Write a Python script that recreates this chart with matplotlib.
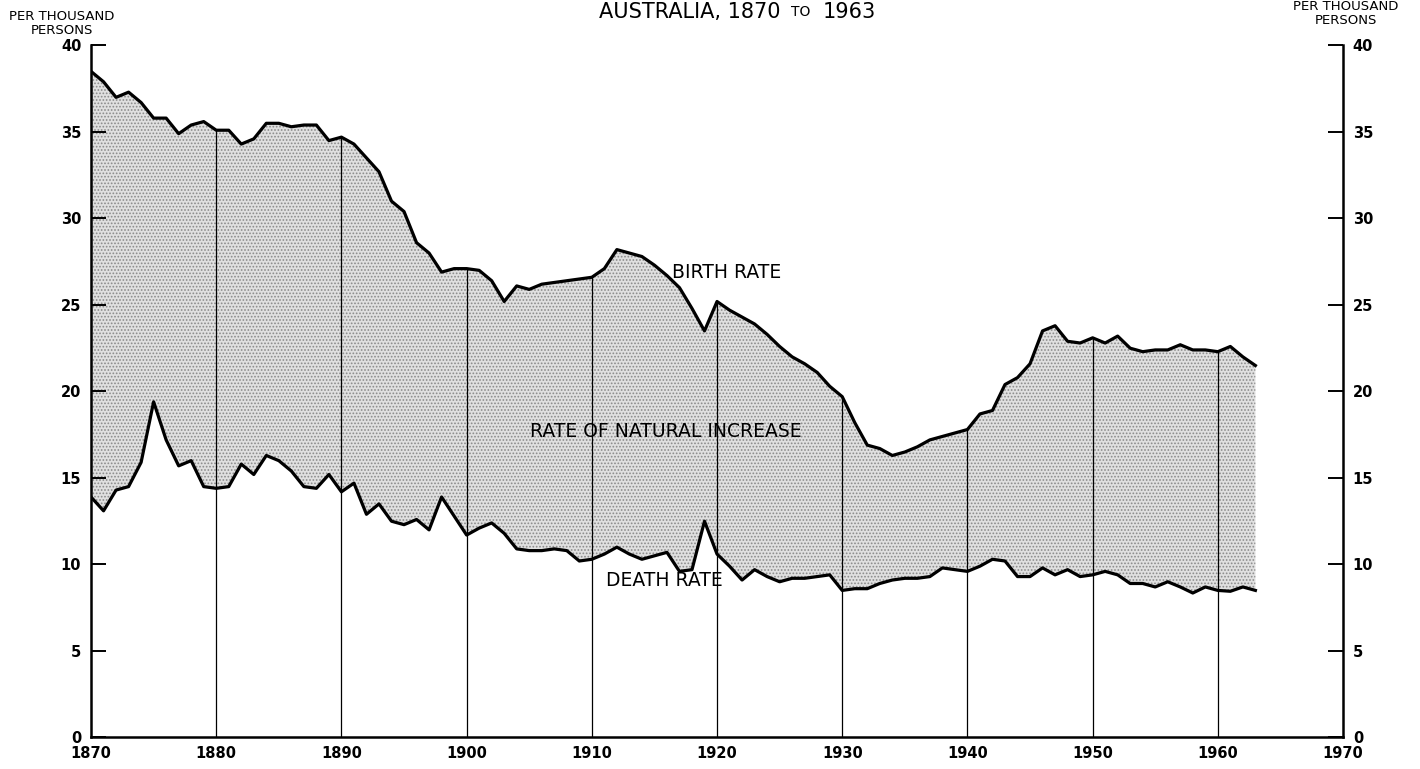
"""
Birth rate, death rate and rate of natural increase, Australia 1870-1963.
Redrawn from a scanned chart; values read off the picture (per thousand persons).
"""

import matplotlib
matplotlib.use('Agg')
import matplotlib.pyplot as plt

# --- Data ---
years = list(range(1870, 1964))

birth_rate = [
    38.5, 37.9, 37.0, 37.3, 36.7, 35.8, 35.8, 34.9, 35.4, 35.6,   # 1870s
    35.1, 35.1, 34.3, 34.6, 35.5, 35.5, 35.3, 35.4, 35.4, 34.5,   # 1880s
    34.7, 34.3, 33.5, 32.7, 31.0, 30.4, 28.6, 28.0, 26.9, 27.1,   # 1890s
    27.1, 27.0, 26.4, 25.2, 26.1, 25.9, 26.2, 26.3, 26.4, 26.5,   # 1900s
    26.6, 27.1, 28.2, 28.0, 27.8, 27.3, 26.7, 26.0, 24.8, 23.5,   # 1910s
    25.2, 24.7, 24.3, 23.9, 23.3, 22.6, 22.0, 21.6, 21.1, 20.3,   # 1920s
    19.7, 18.2, 16.9, 16.7, 16.3, 16.5, 16.8, 17.2, 17.4, 17.6,   # 1930s
    17.8, 18.7, 18.9, 20.4, 20.8, 21.6, 23.5, 23.8, 22.9, 22.8,   # 1940s
    23.1, 22.8, 23.2, 22.5, 22.3, 22.4, 22.4, 22.7, 22.4, 22.4,   # 1950s
    22.3, 22.6, 22.0, 21.5,                                       # 1960-63
]

death_rate = [
    13.9, 13.1, 14.3, 14.5, 15.9, 19.4, 17.2, 15.7, 16.0, 14.5,   # 1870s
    14.4, 14.5, 15.8, 15.2, 16.3, 16.0, 15.4, 14.5, 14.4, 15.2,   # 1880s
    14.2, 14.7, 12.9, 13.5, 12.5, 12.3, 12.6, 12.0, 13.9, 12.8,   # 1890s
    11.7, 12.1, 12.4, 11.8, 10.9, 10.8, 10.8, 10.9, 10.8, 10.2,   # 1900s
    10.3, 10.6, 11.0, 10.6, 10.3, 10.5, 10.7, 9.6, 9.7, 12.5,     # 1910s
    10.6, 9.9, 9.1, 9.7, 9.3, 9.0, 9.2, 9.2, 9.3, 9.4,            # 1920s
    8.5, 8.6, 8.6, 8.9, 9.1, 9.2, 9.2, 9.3, 9.8, 9.7,             # 1930s
    9.6, 9.9, 10.3, 10.2, 9.3, 9.3, 9.8, 9.4, 9.7, 9.3,           # 1940s
    9.4, 9.6, 9.4, 8.9, 8.9, 8.7, 9.0, 8.7, 8.35, 8.7,            # 1950s
    8.5, 8.45, 8.7, 8.5,                                          # 1960-63
]

decade_lines = [1880, 1890, 1900, 1910, 1920, 1930, 1940, 1950, 1960]
x_ticks = [1870, 1880, 1890, 1900, 1910, 1920, 1930, 1940, 1950, 1960, 1970]
y_ticks = [0, 5, 10, 15, 20, 25, 30, 35, 40]

plt.rcParams['font.family'] = ['DejaVu Sans']
plt.rcParams['hatch.linewidth'] = 0.8

fig = plt.figure(figsize=(14.2, 7.69), dpi=100)
ax = fig.add_axes([0.0641, 0.0410, 0.8817, 0.8999])

# --- Stippled band between the two curves ---
ax.fill_between(years, death_rate, birth_rate, facecolor='#e0e0e0',
                edgecolor='#8a8a8a', hatch='.....', linewidth=0, zorder=1)

# --- Decade rules from the baseline up to the birth-rate curve ---
tops = [birth_rate[years.index(d)] for d in decade_lines]
ax.vlines(decade_lines, 0, tops, colors='black', linewidth=0.9, zorder=2)

# --- The two rate curves ---
ax.plot(years, birth_rate, color='black', linewidth=2.3, zorder=3)
ax.plot(years, death_rate, color='black', linewidth=2.3, zorder=3)

# --- Axes styling ---
ax.set_xlim(1870, 1970)
ax.set_ylim(0, 40)
ax.spines['top'].set_visible(False)
for side in ('left', 'right', 'bottom'):
    ax.spines[side].set_linewidth(1.8)

ax.set_xticks(x_ticks)
ax.set_yticks(y_ticks)
ax.tick_params(axis='x', length=0, pad=6, labelsize=10.5)
ax.tick_params(axis='y', direction='in', length=11, width=1.4,
               left=True, right=True, labelleft=True, labelright=True,
               pad=7, labelsize=10.5)
for lbl in ax.get_xticklabels():
    lbl.set_fontweight('bold')
for t in ax.yaxis.get_major_ticks():
    t.label1.set_fontweight('bold')
    t.label2.set_fontweight('bold')

# --- In-chart labels ---
ax.text(1916.4, 26.9, 'BIRTH RATE', fontsize=13.5, ha='left', va='center')
ax.text(1915.9, 17.7, 'RATE OF NATURAL INCREASE', fontsize=13.5,
        ha='center', va='center')
ax.text(1911.1, 9.05, 'DEATH RATE', fontsize=13.5, ha='left', va='center')

# --- Unit labels and title ---
fig.text(62 / 1420, 1 - 24 / 769, 'PER THOUSAND\nPERSONS', fontsize=9.5,
         ha='center', va='center', linespacing=1.1)
fig.text(1346 / 1420, 1 - 14 / 769, 'PER THOUSAND\nPERSONS', fontsize=9.5,
         ha='center', va='center', linespacing=1.1)

fig.text(780 / 1420, 1 - 2 / 769, 'AUSTRALIA, 1870', fontsize=15,
         ha='right', va='top')
fig.text(801 / 1420, 1 - 5 / 769, 'TO', fontsize=10,
         ha='center', va='top')
fig.text(823 / 1420, 1 - 2 / 769, '1963', fontsize=15,
         ha='left', va='top')

plt.savefig('out.png', dpi=100)
plt.close()
